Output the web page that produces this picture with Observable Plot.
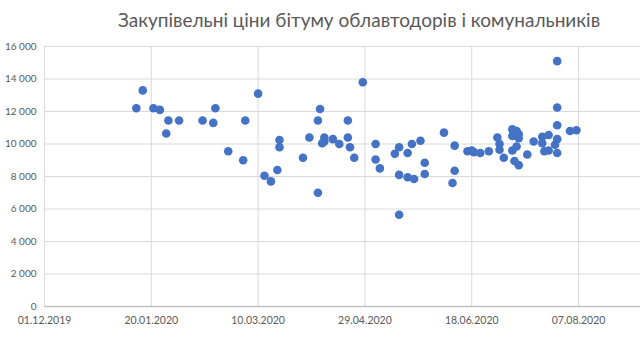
<!DOCTYPE html>
<html>
<head>
<meta charset="utf-8">
<script src="https://cdn.jsdelivr.net/npm/d3@7"></script>
<script src="https://cdn.jsdelivr.net/npm/@observablehq/plot@0.6"></script>
<style>
  html, body { margin: 0; padding: 0; background: #fff; }
  #wrap { width: 640px; height: 338px; overflow: hidden; position: relative; }
  #title { height: 40px; width: 640px; box-sizing: border-box; padding-left: 78px; text-align: center;
           font-family: Lato, "Open Sans", sans-serif; font-size: 19px; color: #595959; line-height: 40px; }
</style>
</head>
<body>
<div id="wrap">
  <div id="title">Закупівельні ціни бітуму облавтодорів і комунальників</div>
  <div id="chart"></div>
</div>
<script>
const dates = [
  "2020-01-13","2020-01-16","2020-01-21","2020-01-24","2020-01-28","2020-01-27","2020-02-02","2020-02-13",
  "2020-02-18","2020-02-19","2020-02-25","2020-03-04","2020-03-03","2020-03-10","2020-03-13","2020-03-16",
  "2020-03-19","2020-03-20","2020-03-20","2020-03-31","2020-04-03","2020-04-07","2020-04-07","2020-04-08",
  "2020-04-09","2020-04-10","2020-04-10","2020-04-14","2020-04-17","2020-04-21","2020-04-21","2020-04-22",
  "2020-04-24","2020-04-28","2020-05-04","2020-05-04","2020-05-06","2020-05-13","2020-05-15","2020-05-15",
  "2020-05-15","2020-05-19","2020-05-19","2020-05-21","2020-05-22","2020-05-25","2020-05-27","2020-05-27",
  "2020-06-05","2020-06-10","2020-06-10","2020-06-09","2020-06-16","2020-06-18","2020-06-19","2020-06-22",
  "2020-06-26","2020-06-30","2020-07-01","2020-07-01","2020-07-03","2020-07-07","2020-07-07","2020-07-09",
  "2020-07-10","2020-07-10","2020-07-09","2020-07-07","2020-07-08","2020-07-10","2020-07-14","2020-07-17",
  "2020-07-21","2020-07-21","2020-07-22","2020-07-24","2020-07-24","2020-07-27","2020-07-28","2020-07-28",
  "2020-07-28","2020-07-28","2020-07-28","2020-08-03","2020-08-06"
];
const prices = [
  12200,13300,12200,12100,11450,10650,11450,11450,
  11300,12200,9550,11450,9000,13100,8050,7700,
  8400,10250,9800,9150,10400,7000,11450,12150,
  10050,10400,10150,10300,10000,11450,10400,9800,
  9150,13800,10000,9050,8500,9400,9800,8100,
  5650,9450,7950,10000,7850,10200,8850,8150,
  10700,9900,8350,7600,9550,9600,9500,9450,
  9550,10400,10000,9650,9150,10900,10500,10800,
  10600,10350,9850,9600,8950,8700,9350,10150,
  10450,10050,9550,10550,9600,9950,15100,12250,
  11150,10300,9450,10800,10850
];
const xTickLabels = ["2019-12-01","2020-01-20","2020-03-10","2020-04-29","2020-06-18","2020-08-07"];
const yTicks = [0,2000,4000,6000,8000,10000,12000,14000,16000];

const data = dates.map((d, i) => ({date: new Date(d), price: prices[i]}));
const xTicks = xTickLabels.map(d => new Date(d));
const fmtY = d => d3.format(",")(d).replace(/,/g, " ");

const chart = Plot.plot({
  width: 640,
  height: 298,
  marginLeft: 44,
  marginRight: 0,
  marginTop: 6,
  marginBottom: 32,
  style: {fontFamily: "Lato, 'Open Sans', sans-serif", fontSize: "10px", color: "#595959", background: "#fff", overflow: "hidden"},
  x: {type: "utc", domain: [new Date("2019-12-01"), new Date("2020-09-05")], label: null},
  y: {domain: [0, 16000], label: null},
  marks: [
    Plot.gridY(yTicks, {stroke: "#d9d9d9", strokeOpacity: 1}),
    Plot.gridX(xTicks, {stroke: "#d9d9d9", strokeOpacity: 1}),
    Plot.ruleY([0], {stroke: "#bfbfbf", strokeWidth: 1.3}),
    Plot.axisX(xTicks, {tickSize: 0, tickPadding: 10, tickFormat: d3.utcFormat("%d.%m.%Y"), fill: "#595959", fontSize: 10.5}),
    Plot.axisY(yTicks, {tickSize: 0, tickPadding: 8, tickFormat: fmtY, fill: "#595959", fontSize: 10}),
    Plot.dot(data, {x: "date", y: "price", r: 4.3, fill: "#4472C4", stroke: "none"})
  ]
});
document.getElementById("chart").appendChild(chart);
</script>
</body>
</html>
